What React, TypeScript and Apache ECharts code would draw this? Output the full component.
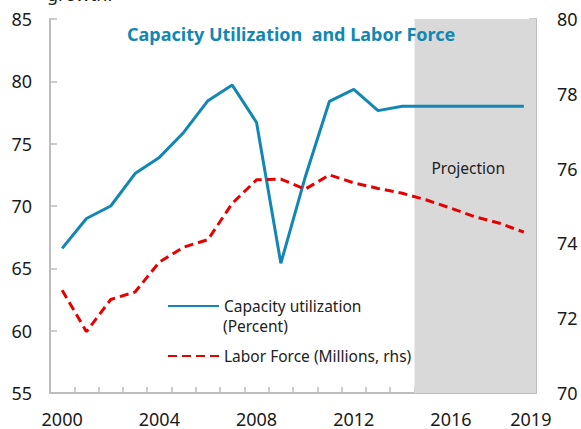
import React, { useEffect, useRef } from "react";
import * as echarts from "echarts";

const years = ["2000","2001","2002","2003","2004","2005","2006","2007","2008","2009","2010","2011","2012","2013","2014","2015","2016","2017","2018","2019"];
const capacityUtilization = [66.6, 69.0, 70.0, 72.6, 73.9, 75.9, 78.45, 79.7, 76.7, 65.4, 72.3, 78.4, 79.35, 77.65, 78.0, 78.0, 78.0, 78.0, 78.0, 78.0];
const laborForce = [72.75, 71.64, 72.5, 72.7, 73.5, 73.9, 74.1, 75.07, 75.7, 75.72, 75.45, 75.83, 75.62, 75.47, 75.34, 75.16, 74.94, 74.71, 74.54, 74.3];
const shownYearLabels = ["2000", "2004", "2008", "2012", "2016", "2019"];
const projectionRange = [2014.5, 2019.5];

const FONT = "Noto Sans";
const BLUE = "#1287B4";
const RED = "#E60000";
const AXIS = "#BDBDBD";
const TXT = "#1a1a1a";

export default function App() {
  const ref = useRef<HTMLDivElement>(null);
  useEffect(() => {
    if (!ref.current) return;
    const chart = echarts.init(ref.current, null, { renderer: "svg" });
    chart.setOption({
      animation: false,
      textStyle: { fontFamily: FONT },
      grid: { left: 50, right: 45, top: 19, bottom: 36 },
      title: {
        text: "Capacity Utilization  and Labor Force",
        left: 127,
        top: 25,
        padding: 0,
        textStyle: { color: BLUE, fontSize: 18, fontWeight: "bold", fontFamily: FONT },
      },
      legend: {
        orient: "vertical",
        left: 167,
        top: 298,
        padding: 0,
        itemWidth: 51,
        itemHeight: 14,
        itemGap: 34,
        itemStyle: { opacity: 0 },
        textStyle: { fontSize: 15.5, color: "#222", fontFamily: FONT },
        data: ["Capacity utilization", "Labor Force (Millions, rhs)"],
      },
      graphic: [
        { type: "text", left: 223, top: 318, style: { text: "(Percent)", fontSize: 15.5, fill: "#222", fontFamily: FONT } },
        { type: "text", left: 47, top: -15, style: { text: "growth.", fontSize: 18, fill: "#222", fontFamily: FONT } },
      ],
      xAxis: [
        {
          type: "category",
          data: years,
          boundaryGap: true,
          axisLine: { lineStyle: { color: AXIS, width: 2 } },
          axisTick: { show: true, inside: true, interval: 0, length: 6, lineStyle: { color: AXIS, width: 1.5 } },
          axisLabel: {
            interval: (i: number, v: string) => shownYearLabels.includes(v),
            fontSize: 18,
            color: TXT,
            margin: 17,
            fontFamily: FONT,
            formatter: (v: string) => (v === "2019" ? "{r|" + v + "}" : v),
            rich: { r: { fontSize: 18, color: TXT, fontFamily: FONT, padding: [0, 0, 0, 14] } },
          },
          splitLine: { show: false },
        },
        { type: "value", min: 1999.5, max: 2019.5, show: false },
      ],
      yAxis: [
        {
          type: "value",
          min: 55,
          max: 85,
          interval: 5,
          axisLine: { show: true, lineStyle: { color: AXIS, width: 2 } },
          axisTick: { show: true, inside: true, length: 7, lineStyle: { color: AXIS, width: 1.5 } },
          axisLabel: { fontSize: 18, color: TXT, margin: 18, fontFamily: FONT },
          splitLine: { show: false },
        },
        {
          type: "value",
          min: 70,
          max: 80,
          interval: 2,
          position: "right",
          axisLine: { show: true, lineStyle: { color: AXIS, width: 2 } },
          axisTick: { show: true, inside: true, length: 7, lineStyle: { color: AXIS, width: 1.5 } },
          axisLabel: { fontSize: 18, color: TXT, margin: 21, fontFamily: FONT },
          splitLine: { show: false },
        },
      ],
      series: [
        {
          name: "projection",
          type: "line",
          xAxisIndex: 1,
          yAxisIndex: 0,
          data: [],
          silent: true,
          markArea: {
            silent: true,
            itemStyle: { color: "#D9D9D9" },
            label: {
              show: true,
              position: ["50%", 149],
              offset: [-7, 0],
              align: "center",
              verticalAlign: "middle",
              fontSize: 15.5,
              color: "#222",
              fontFamily: FONT,
            },
            data: [[{ xAxis: projectionRange[0], name: "Projection" }, { xAxis: projectionRange[1] }]],
          },
        },
        {
          name: "Capacity utilization",
          type: "line",
          yAxisIndex: 0,
          data: capacityUtilization,
          symbol: "none",
          lineStyle: { color: BLUE, width: 3 },
          itemStyle: { color: BLUE },
        },
        {
          name: "Labor Force (Millions, rhs)",
          type: "line",
          yAxisIndex: 1,
          data: laborForce,
          symbol: "none",
          lineStyle: { color: RED, width: 3, type: [9, 5] },
          itemStyle: { color: RED },
        },
      ],
    });
    return () => chart.dispose();
  }, []);
  return <div ref={ref} style={{ position: "absolute", left: 0, top: 0, width: 581, height: 429 }} />;
}
